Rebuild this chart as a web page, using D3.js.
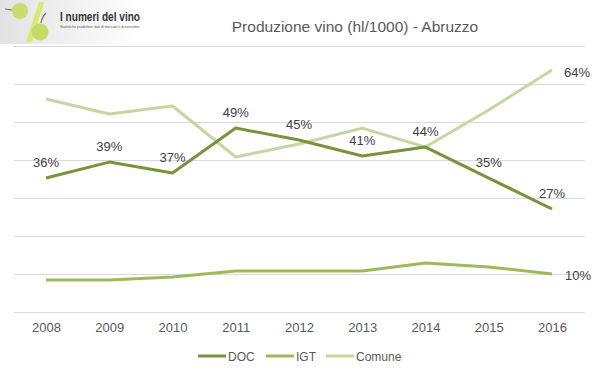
<!DOCTYPE html>
<html>
<head>
<meta charset="utf-8">
<script src="https://cdn.jsdelivr.net/npm/d3@7"></script>
<style>
  body { margin: 0; background: #fff; }
  svg { display: block; font-family: "Liberation Sans", Arial, sans-serif; }
</style>
</head>
<body>
<svg id="chart" width="599" height="378"></svg>
<script>
// Produzione vino (hl/1000) - Abruzzo

var years = ["2008", "2009", "2010", "2011", "2012", "2013", "2014", "2015", "2016"];
var doc = [705, 789, 732, 968, 905, 821, 868, 705, 542];
var igt = [168, 168, 184, 216, 216, 216, 258, 237, 200];
var comune = [1121, 1042, 1084, 816, 884, 968, 868, 1063, 1274];
var docLabels = ["36%", "39%", "37%", "49%", "45%", "41%", "44%", "35%", "27%"];
var yTicks = [0, 200, 400, 600, 800, 1000, 1200, 1400];

var series = [
  {name: "DOC", values: doc, color: "#77933c"},
  {name: "IGT", values: igt, color: "#9bbb59"},
  {name: "Comune", values: comune, color: "#c4d7a0"}
];

var svg = d3.select("#chart");

var x = d3.scalePoint().domain(years).range([46, 552]);
var y = d3.scaleLinear().domain([0, 1400]).range([312, 46]);

///////////////////////////////////////////////////////////////////////////////
// Logo

var grad = svg.append("defs").append("linearGradient")
  .attr("id", "logobg").attr("x1", 0).attr("y1", 0).attr("x2", 1).attr("y2", 0);
grad.append("stop").attr("offset", "0%").attr("stop-color", "#e2e2e2");
grad.append("stop").attr("offset", "100%").attr("stop-color", "#ffffff");
svg.append("rect").attr("x", 0).attr("y", 0).attr("width", 140).attr("height", 44)
  .attr("fill", "url(#logobg)");

var logo = svg.append("g");
logo.append("path").attr("d", "M26,42 L32,42 L44,2 L39,2 Z").attr("fill", "#d6ea72");
logo.append("circle").attr("cx", 20).attr("cy", 11).attr("r", 8).attr("fill", "#c8dc70");
logo.append("path").attr("d", "M5,9 L12,10").attr("stroke", "#8a6a3a").attr("stroke-width", 1.2);
logo.append("circle").attr("cx", 40).attr("cy", 32).attr("r", 8.5).attr("fill", "#c5da68");
logo.append("path").attr("d", "M41,23 Q42,17 46,13").attr("stroke", "#8a6a3a")
  .attr("stroke-width", 1.2).attr("fill", "none");
logo.append("text").attr("x", 60).attr("y", 21).attr("font-size", 12)
  .attr("font-weight", "bold").attr("fill", "#333")
  .attr("textLength", 80).attr("lengthAdjust", "spacingAndGlyphs")
  .text("I numeri del vino");
logo.append("text").attr("x", 60).attr("y", 28).attr("font-size", 3.5).attr("fill", "#555")
  .attr("textLength", 80).attr("lengthAdjust", "spacingAndGlyphs")
  .text("Statistiche produttive, dati di mercato e di consumo.");

///////////////////////////////////////////////////////////////////////////////
// Title

svg.append("text").attr("x", 355).attr("y", 32).attr("text-anchor", "middle")
  .attr("font-size", 15.5).attr("fill", "#595959")
  .text("Produzione vino (hl/1000) - Abruzzo");

///////////////////////////////////////////////////////////////////////////////
// Grid and axis

svg.append("g").selectAll("line").data(yTicks).join("line")
  .attr("x1", 14).attr("x2", 585)
  .attr("y1", function (d) { return Math.round(y(d)) + 0.5; })
  .attr("y2", function (d) { return Math.round(y(d)) + 0.5; })
  .attr("stroke", "#d9d9d9").attr("stroke-width", 1);

var xAxis = svg.append("g").attr("transform", "translate(0,312)")
  .call(d3.axisBottom(x).tickSize(0).tickPadding(11));
xAxis.select(".domain").remove();
xAxis.selectAll("text").attr("font-size", 13).attr("fill", "#595959")
  .style("font-family", "'Liberation Sans', Arial, sans-serif");

///////////////////////////////////////////////////////////////////////////////
// Lines

var line = d3.line()
  .x(function (d, i) { return x(years[i]); })
  .y(function (d) { return y(d); });

svg.append("g").selectAll("path").data(series.slice().reverse()).join("path")
  .attr("d", function (s) { return line(s.values); })
  .attr("fill", "none")
  .attr("stroke", function (s) { return s.color; })
  .attr("stroke-width", 3)
  .attr("stroke-linejoin", "round");

///////////////////////////////////////////////////////////////////////////////
// Labels

var labelFont = 13;
svg.append("g").selectAll("text").data(docLabels).join("text")
  .attr("x", function (d, i) { return x(years[i]); })
  .attr("y", function (d, i) { return y(doc[i]) - 11; })
  .attr("text-anchor", "middle")
  .attr("font-size", labelFont).attr("fill", "#404040")
  .text(function (d) { return d; });

// end labels for Comune and IGT
svg.append("text").attr("x", x("2016") + 12).attr("y", y(comune[8]) + 7)
  .attr("font-size", labelFont).attr("fill", "#404040").text("64%");
svg.append("text").attr("x", x("2016") + 13).attr("y", y(igt[8]) + 6)
  .attr("font-size", labelFont).attr("fill", "#404040").text("10%");

///////////////////////////////////////////////////////////////////////////////
// Legend

var legendX = [198, 266, 326];
var legend = svg.append("g").selectAll("g").data(series).join("g")
  .attr("transform", function (s, i) { return "translate(" + legendX[i] + ",356)"; });
legend.append("line").attr("x1", 0).attr("x2", 28).attr("y1", 0).attr("y2", 0)
  .attr("stroke", function (s) { return s.color; }).attr("stroke-width", 3);
legend.append("text").attr("x", 30).attr("y", 5).attr("font-size", 12)
  .attr("fill", "#595959").text(function (s) { return s.name; });
</script>
</body>
</html>
